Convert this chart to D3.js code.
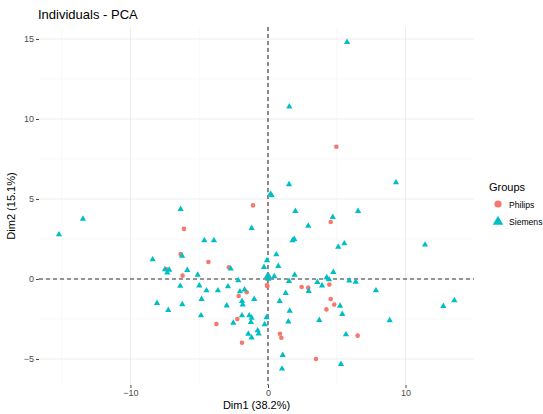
<html><head>
<meta charset="UTF-8">
<title>Individuals - PCA</title>
<script src="https://d3js.org/d3.v7.min.js"></script>
<style>
  body { margin: 0; background: #fff; font-family: "Liberation Sans", Arial, sans-serif; }
  .grid-major { stroke: #ebebeb; stroke-width: 0.9; }
  .grid-minor { stroke: #f3f3f3; stroke-width: 0.5; }
  .tick-label { fill: #4d4d4d; font-size: 9px; }
  .zero { stroke: #333; stroke-width: 1.1; stroke-dasharray: 4,3; fill: none; }
</style>
</head>
<body>
<div id="chart"></div>
<script>
// Philips individuals (Dim1, Dim2)
const philipsX = [4.97, -1.09, -6.11, 4.56, -6.35, -4.33, -2.84, -7.37, -6.21, -0.07, -0.05, -1.55, -2.13,
  2.45, 2.93, 4.46, 4.56, 4.82, 4.25, -2.23, -3.75, 0.87, 0.97, -1.89, 6.52, 3.49];
const philipsY = [8.27, 4.6, 3.13, 3.56, 1.56, 1.06, 0.73, 0.6, 0.21, -0.38, -0.45, -0.83, -1.06,
  -0.5, -0.54, -0.35, -1.25, -1.6, -1.9, -2.5, -2.81, -3.42, -3.67, -3.98, -3.54, -5.0];

// Siemens individuals (Dim1, Dim2)
const siemensX = [-15.2, -13.45, -6.35, -8.39, -7.49, -7.18, -7.32, -6.38, -8.07, -7.25, -6.23,
  0.19, 0.27, -1.19, -4.63, -3.93, -6.25, -2.71, -5.87, -5.11, -2.16, -4.99, -4.47, -3.64, -2.91,
  -2.04, -1.7, -1.0, -1.89, -1.84, -4.83, -3.0, -4.87, -1.89, -1.36, -1.19, -1.24, -2.52, -0.1,
  -0.24, -0.75, -0.68, -1.43, -1.19,
  1.53, 1.99, 6.55, 4.71, 2.93, 1.79, 1.91, 5.55, 5.11, 0.61, -0.07, 0.75, -0.29, 1.94, 4.75,
  4.27, 4.44, 5.91, 6.38, 7.85, 3.59, 3.93, 1.53, 2.96, 1.29, 0.85, 5.24, 1.58, 5.4, 1.48, 3.73,
  5.67, 1.07, 9.31, 11.42, 12.75, 13.55, 8.85, 5.75, 1.55, 1.02, 5.31,
  -0.07, 0.07, 0.02, 0.46];
const siemensY = [2.81, 3.79, 4.4, 1.25, 0.63, 0.6, 0.42, -0.41, -1.48, -1.92, -1.56,
  5.35, 5.25, 3.21, 2.44, 2.44, 1.48, 0.67, 0.58, 0.29, -0.06, -0.38, -0.69, -0.69, -0.44,
  -0.75, -0.63, -1.23, -1.35, -1.58, -1.23, -1.63, -2.25, -2.25, -2.25, -2.4, -2.67, -2.71, -2.37,
  -2.81, -3.19, -3.38, -3.4, -3.64,
  5.94, 4.27, 4.27, 3.9, 3.35, 2.44, 2.52, 2.25, 2.04, 1.56, 1.19, 0.83, 0.77, 0.29, 0.46,
  0.13, 0.0, -0.08, -0.15, -0.69, -0.17, -0.38, -0.1, -0.73, -0.85, -1.35, -1.65, -1.96, -2.17, -2.63, -2.54,
  -3.44, -4.73, 6.06, 2.17, -1.67, -1.31, -2.56, 14.83, 10.8, -5.58, -5.29,
  0.19, 0.19, 0.04, 0.19];

const groups = ["Philips", "Siemens"];
const groupColors = ["#F8766D", "#00BFC4"];
const xTicks = [-10, 0, 10];
const xMinor = [-15, -5, 5, 15];
const yTicks = [-5, 0, 5, 10, 15];
const yMinor = [-2.5, 2.5, 7.5, 12.5];

const W = 543, H = 414;
const panel = { left: 39, right: 474, top: 27, bottom: 385 };

const x = d3.scaleLinear().domain([-16.65, 14.98]).range([panel.left, panel.right]);
const y = d3.scaleLinear().domain([-6.625, 15.75]).range([panel.bottom, panel.top]);
const color = d3.scaleOrdinal().domain(groups).range(groupColors);

const svg = d3.select("#chart").append("svg")
  .attr("width", W).attr("height", H);

// grid
const grid = svg.append("g");
grid.selectAll(".vminor").data(xMinor.filter(v => x(v) >= panel.left && x(v) <= panel.right))
  .enter().append("line").attr("class", "grid-minor")
  .attr("x1", d => x(d)).attr("x2", d => x(d)).attr("y1", panel.top).attr("y2", panel.bottom);
grid.selectAll(".hminor").data(yMinor)
  .enter().append("line").attr("class", "grid-minor")
  .attr("x1", panel.left).attr("x2", panel.right).attr("y1", d => y(d)).attr("y2", d => y(d));
grid.selectAll(".vmajor").data(xTicks)
  .enter().append("line").attr("class", "grid-major")
  .attr("x1", d => x(d)).attr("x2", d => x(d)).attr("y1", panel.top).attr("y2", panel.bottom);
grid.selectAll(".hmajor").data(yTicks)
  .enter().append("line").attr("class", "grid-major")
  .attr("x1", panel.left).attr("x2", panel.right).attr("y1", d => y(d)).attr("y2", d => y(d));

// axes
const xAxis = svg.append("g").attr("transform", `translate(0,${panel.bottom})`)
  .call(d3.axisBottom(x).tickValues(xTicks).tickSize(3).tickPadding(2));
const yAxis = svg.append("g").attr("transform", `translate(${panel.left},0)`)
  .call(d3.axisLeft(y).tickValues(yTicks).tickSize(3).tickPadding(2));
[xAxis, yAxis].forEach(a => {
  a.select(".domain").remove();
  a.selectAll(".tick line").attr("stroke", "#333").attr("stroke-width", 0.9);
  a.selectAll(".tick text").attr("class", "tick-label").attr("fill", "#4d4d4d")
    .style("font-size", "9px").style("font-family", "Liberation Sans, Arial, sans-serif");
});

// zero lines
svg.append("line").attr("class", "zero")
  .attr("x1", panel.left).attr("x2", panel.right).attr("y1", y(0)).attr("y2", y(0));
svg.append("line").attr("class", "zero")
  .attr("x1", x(0)).attr("x2", x(0)).attr("y1", panel.top).attr("y2", panel.bottom);

// points
const philips = philipsX.map((v, i) => ({ x: v, y: philipsY[i] }));
const siemens = siemensX.map((v, i) => ({ x: v, y: siemensY[i] }));

svg.append("g").selectAll("circle").data(philips).enter().append("circle")
  .attr("cx", d => x(d.x)).attr("cy", d => y(d.y)).attr("r", 2.3)
  .attr("fill", color("Philips"));

const tri = d3.symbol().type(d3.symbolTriangle).size(17);
svg.append("g").selectAll("path").data(siemens).enter().append("path")
  .attr("d", tri)
  .attr("transform", d => `translate(${x(d.x)},${y(d.y) + 0.5})`)
  .attr("fill", color("Siemens"));

// titles
svg.append("text").attr("x", 38).attr("y", 19)
  .style("font-size", "13px").attr("fill", "#000").text("Individuals - PCA");
svg.append("text").attr("x", (panel.left + panel.right) / 2).attr("y", 409)
  .attr("text-anchor", "middle").style("font-size", "11px").text("Dim1 (38.2%)");
svg.append("text")
  .attr("transform", `translate(15,${(panel.top + panel.bottom) / 2}) rotate(-90)`)
  .attr("text-anchor", "middle").style("font-size", "11px").text("Dim2 (15.1%)");

// legend
const legend = svg.append("g").attr("transform", "translate(489,0)");
legend.append("text").attr("x", 0).attr("y", 191).style("font-size", "11px").text("Groups");
const keys = legend.selectAll(".key").data(groups).enter().append("g")
  .attr("transform", (d, i) => `translate(0,${204 + i * 17})`);
keys.filter(d => d === "Philips").append("circle")
  .attr("cx", 9).attr("cy", 0).attr("r", 3.6).attr("fill", d => color(d));
keys.filter(d => d === "Siemens").append("path")
  .attr("d", d3.symbol().type(d3.symbolTriangle).size(48))
  .attr("transform", "translate(9,0.8)").attr("fill", d => color(d));
keys.append("text").attr("x", 20).attr("y", 3.5).style("font-size", "8.6px").text(d => d);
</script>
</body></html>
